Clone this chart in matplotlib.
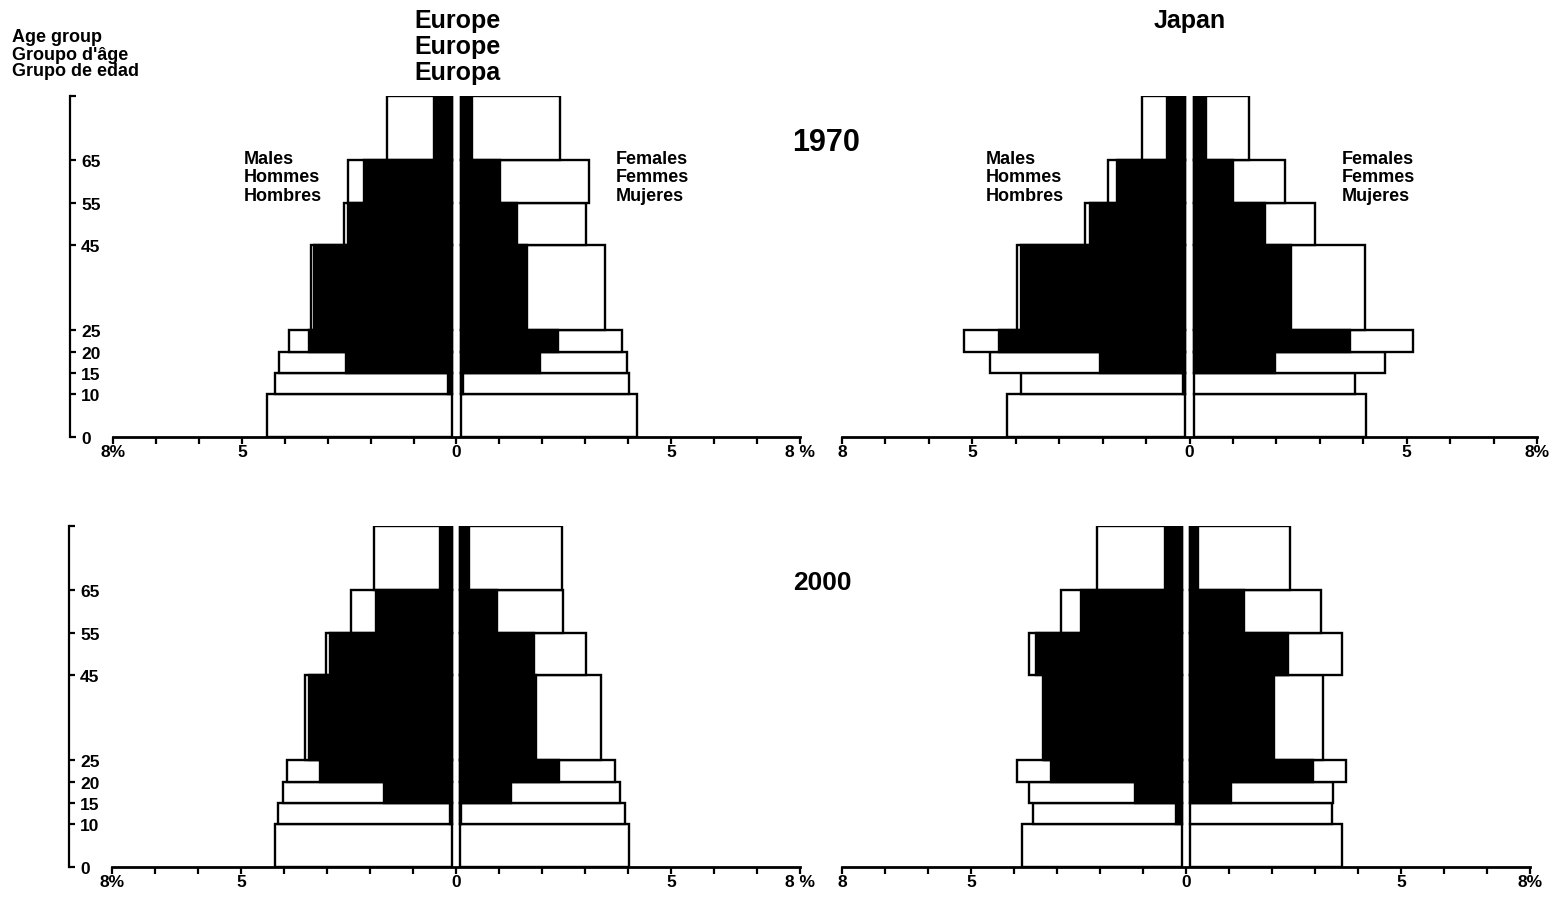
import matplotlib
matplotlib.use('Agg')
import matplotlib.pyplot as plt

plt.rcParams['font.family'] = ['Liberation Sans', 'DejaVu Sans']
plt.rcParams['font.weight'] = 'bold'

# age bands (lower / upper bound)
age_lo = [0, 10, 15, 20, 25, 45, 55, 65]
age_hi = [10, 15, 20, 25, 45, 55, 65, 80]

# % of population: total (white bar) and economically active (black part)
eu70_m_total = [4.42, 4.23, 4.14, 3.90, 3.40, 2.63, 2.53, 1.63]
eu70_m_active = [0.0, 0.20, 2.58, 3.44, 3.33, 2.53, 2.16, 0.53]
eu70_f_total = [4.21, 4.02, 3.98, 3.86, 3.47, 3.02, 3.09, 2.40]
eu70_f_active = [0.0, 0.15, 1.95, 2.37, 1.65, 1.42, 1.02, 0.37]

jp70_m_total = [4.19, 3.89, 4.59, 5.18, 3.96, 2.40, 1.87, 1.10]
jp70_m_active = [0.0, 0.14, 2.05, 4.38, 3.89, 2.28, 1.66, 0.51]
jp70_f_total = [4.06, 3.82, 4.49, 5.14, 4.03, 2.90, 2.21, 1.38]
jp70_f_active = [0.0, 0.0, 1.96, 3.69, 2.33, 1.73, 0.99, 0.37]

eu00_m_total = [4.21, 4.14, 4.02, 3.93, 3.51, 3.02, 2.44, 1.91]
eu00_m_active = [0.0, 0.14, 1.67, 3.16, 3.42, 2.93, 1.86, 0.37]
eu00_f_total = [4.02, 3.93, 3.81, 3.70, 3.37, 3.02, 2.49, 2.47]
eu00_f_active = [0.0, 0.12, 1.28, 2.40, 1.86, 1.81, 0.95, 0.30]

jp00_m_total = [3.81, 3.56, 3.65, 3.93, 3.33, 3.65, 2.91, 2.07]
jp00_m_active = [0.0, 0.23, 1.19, 3.14, 3.28, 3.49, 2.44, 0.49]
jp00_f_total = [3.63, 3.40, 3.42, 3.72, 3.19, 3.63, 3.14, 2.42]
jp00_f_active = [0.0, 0.0, 1.05, 2.95, 2.05, 2.37, 1.35, 0.28]

age_ticks = [0, 10, 15, 20, 25, 45, 55, 65, 80]
age_labels = ['0', '10', '15', '20', '25', '45', '55', '65', '']

GAP = 0.1   # white strip at the centre line
W = 1560
H = 904


def pyramid(ax, m_tot, m_act, f_tot, f_act):
    heights = [hi - lo for lo, hi in zip(age_lo, age_hi)]
    for side, tot, act in ((-1, m_tot, m_act), (1, f_tot, f_act)):
        ax.barh(age_lo, [side * (t - GAP) for t in tot], left=side * GAP,
                height=heights, align='edge', color='white',
                edgecolor='black', linewidth=1.7, zorder=2)
        for lo, h, a in zip(age_lo, heights, act):
            if a > GAP:
                ax.barh(lo, side * (a - GAP), left=side * GAP, height=h,
                        align='edge', color='black', edgecolor='black',
                        linewidth=1.7, zorder=3)


def setup(ax, left_label, right_label, yaxis):
    ax.set_xlim(-8, 8)
    ax.set_ylim(0, 80)
    for s in ('top', 'right'):
        ax.spines[s].set_visible(False)
    ax.spines['bottom'].set_bounds(-8, 8)
    ax.spines['bottom'].set_linewidth(2)
    ax.spines['bottom'].set_zorder(4)
    ax.set_xticks(range(-8, 9))
    lbl = {-8: left_label, -5: '5', 0: '0', 5: '5', 8: right_label}
    ax.set_xticklabels([lbl.get(i, '') for i in range(-8, 9)])
    ax.tick_params(axis='x', direction='out', length=5, width=1.6, pad=0,
                   labelsize=12.5)
    if yaxis:
        ax.spines['left'].set_position(('outward', 31))
        ax.spines['left'].set_linewidth(1.6)
        ax.set_yticks(age_ticks)
        ax.set_yticklabels(age_labels)
        ax.tick_params(axis='y', direction='in', length=4, width=1.6,
                       pad=-8, labelsize=12.5)
        for t in ax.get_yticklabels():
            t.set_horizontalalignment('left')
    else:
        ax.spines['left'].set_visible(False)
        ax.set_yticks([])


fig = plt.figure(figsize=(W / 100, H / 100), dpi=100)

ax1 = fig.add_axes([113 / W, 1 - 438 / H, 687 / W, 341 / H])
ax2 = fig.add_axes([842 / W, 1 - 438 / H, 695 / W, 341 / H])
ax3 = fig.add_axes([112 / W, 1 - 868 / H, 688 / W, 341 / H])
ax4 = fig.add_axes([842 / W, 1 - 868 / H, 688 / W, 341 / H])

pyramid(ax1, eu70_m_total, eu70_m_active, eu70_f_total, eu70_f_active)
pyramid(ax2, jp70_m_total, jp70_m_active, jp70_f_total, jp70_f_active)
pyramid(ax3, eu00_m_total, eu00_m_active, eu00_f_total, eu00_f_active)
pyramid(ax4, jp00_m_total, jp00_m_active, jp00_f_total, jp00_f_active)

setup(ax1, '8%', '8 %', True)
setup(ax2, '8', '8%', False)
setup(ax3, '8%', '8 %', True)
setup(ax4, '8', '8%', False)

# sex labels (1970 row only)
ax1.text(-4.95, 61, 'Males\nHommes\nHombres', ha='left', va='center',
         fontsize=13, linespacing=1.08)
ax1.text(3.7, 61, 'Females\nFemmes\nMujeres', ha='left', va='center',
         fontsize=13, linespacing=1.08)
ax2.text(-4.68, 61, 'Males\nHommes\nHombres', ha='left', va='center',
         fontsize=13, linespacing=1.08)
ax2.text(3.5, 61, 'Females\nFemmes\nMujeres', ha='left', va='center',
         fontsize=13, linespacing=1.08)

fig.text(457 / W, 1 - 47 / H, 'Europe\nEurope\nEuropa', ha='center',
         va='center', fontsize=18, linespacing=1.12)
fig.text(1190 / W, 1 - 21 / H, 'Japan', ha='center', va='center', fontsize=18)
fig.text(826 / W, 1 - 143 / H, '1970', ha='center', va='center', fontsize=22)
fig.text(822 / W, 1 - 583 / H, '2000', ha='center', va='center', fontsize=19)
fig.text(12 / W, 1 - 55 / H, 'Age group\nGroupo d\'âge\nGrupo de edad',
         ha='left', va='center', fontsize=13, linespacing=1.0)

fig.savefig('out.png', dpi=100)
